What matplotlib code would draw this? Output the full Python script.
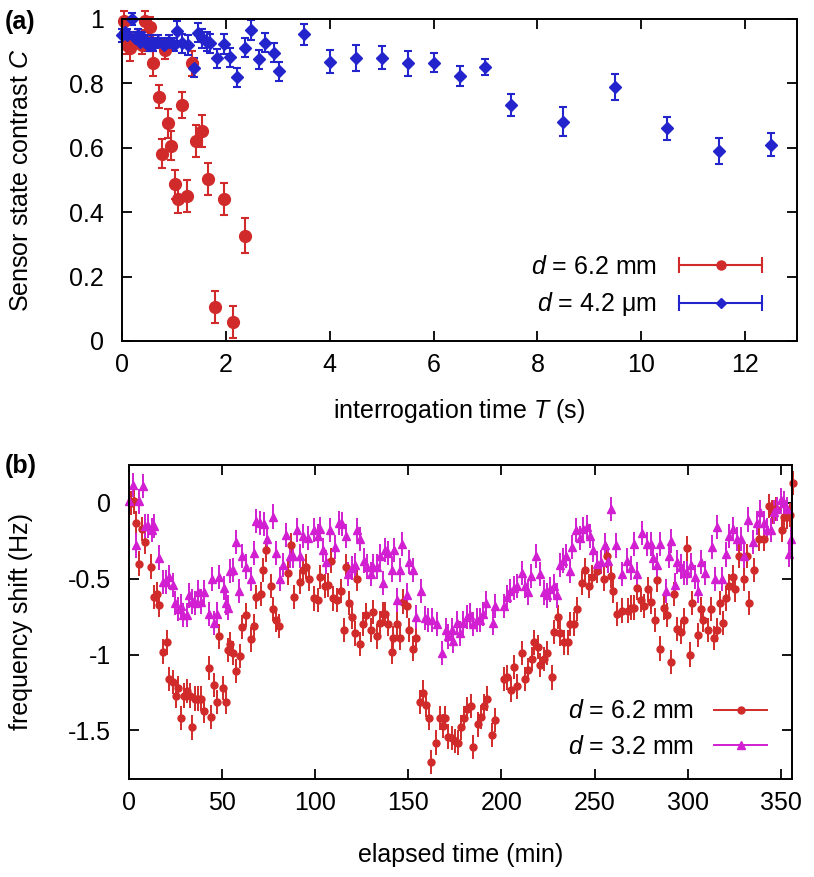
import matplotlib
matplotlib.use('Agg')
import matplotlib.pyplot as plt
from matplotlib.lines import Line2D
from matplotlib.legend_handler import HandlerLine2D, HandlerTuple
from matplotlib.ticker import FormatStrFormatter

plt.rcParams['font.family'] = ['Liberation Sans', 'DejaVu Sans']
plt.rcParams['mathtext.fontset'] = 'custom'
plt.rcParams['mathtext.it'] = 'Liberation Sans:italic'
plt.rcParams['mathtext.rm'] = 'Liberation Sans'
plt.rcParams['axes.unicode_minus'] = False
plt.rcParams['font.size'] = 18

RED = '#d12a2a'
BLUE = '#2424cc'
MAGENTA = '#d11fd1'

# ---- panel (a): contrast vs interrogation time ----
t_red = [0.03, 0.1, 0.15, 0.2, 0.3, 0.38, 0.44, 0.5, 0.53, 0.6, 0.72, 0.77, 0.83, 0.89,
         0.95, 1.02, 1.08, 1.16, 1.25, 1.35, 1.43, 1.54, 1.65, 1.8, 1.96, 2.14, 2.36]
c_red = [0.995, 0.92, 0.91, 0.93, 0.94, 0.92, 0.995, 0.93, 0.975, 0.862, 0.759, 0.582, 0.905, 0.676,
         0.606, 0.487, 0.441, 0.732, 0.45, 0.862, 0.622, 0.653, 0.503, 0.106, 0.442, 0.058, 0.327]
c_red_err = [0.03, 0.03, 0.04, 0.03, 0.03, 0.03, 0.03, 0.03, 0.03, 0.04, 0.035, 0.045, 0.03, 0.045,
             0.045, 0.045, 0.045, 0.04, 0.05, 0.04, 0.05, 0.05, 0.05, 0.05, 0.05, 0.05, 0.055]

t_blue = [0.0, 0.05, 0.1, 0.19, 0.25, 0.3, 0.35, 0.4, 0.45, 0.5, 0.55, 0.6, 0.7, 0.8, 0.9, 1.0,
          1.06, 1.15, 1.28, 1.38, 1.47, 1.55, 1.63, 1.7, 1.83, 1.96, 2.08, 2.21, 2.36, 2.49,
          2.63, 2.76, 2.92, 3.02, 3.5, 4.0, 4.5, 5.0, 5.5, 6.0, 6.5, 7.0, 7.5, 8.5, 9.5,
          10.5, 11.5, 12.5]
c_blue = [0.95, 0.96, 0.95, 1.0, 0.94, 0.95, 0.93, 0.94, 0.93, 0.92, 0.93, 0.92, 0.93, 0.92, 0.93, 0.92,
          0.963, 0.924, 0.919, 0.849, 0.958, 0.94, 0.93, 0.924, 0.878, 0.922, 0.881, 0.819, 0.911, 0.966,
          0.875, 0.927, 0.895, 0.838, 0.953, 0.868, 0.878, 0.88, 0.862, 0.864, 0.823, 0.852, 0.733, 0.681, 0.79,
          0.66, 0.59, 0.61]
c_blue_err = [0.02, 0.02, 0.02, 0.02, 0.02, 0.02, 0.02, 0.02, 0.02, 0.02, 0.02, 0.02, 0.02, 0.02, 0.02, 0.02,
              0.03, 0.03, 0.03, 0.03, 0.03, 0.03, 0.03, 0.03, 0.03, 0.03, 0.03, 0.03, 0.03, 0.03,
              0.03, 0.03, 0.03, 0.03, 0.033, 0.035, 0.04, 0.035, 0.04, 0.03, 0.03, 0.025, 0.035, 0.045, 0.04,
              0.035, 0.04, 0.035]

# ---- panel (b): frequency shift vs elapsed time ----
m_red = [1.0, 2.5, 3.8, 5.5, 7.1, 8.6, 12.0, 13.6, 14.8, 16.3, 18.4, 20.2, 21.6, 23.4, 25.0, 26.4,
         28.0, 29.5, 31.3, 32.7, 33.8, 35.5, 37.3, 38.9, 40.4, 42.7, 44.1, 45.5, 47.0, 48.4, 50.5,
         52.0, 52.9, 54.5, 55.9, 57.3, 59.5, 60.5, 62.7, 65.5, 67.0, 68.4, 70.7, 72.0, 73.8, 76.3,
         77.3, 78.8, 80.5, 85.2, 87.1, 88.6, 91.6, 93.4, 94.8, 96.6, 99.6, 101.4, 102.7, 105.5,
         107.0, 108.2, 109.8, 111.6, 113.8, 115.4, 116.5, 118.3, 119.5, 121.1, 122.6, 124.0, 125.8,
         127.2, 129.7, 131.2, 133.3, 134.8, 136.2, 137.5, 139.2, 141.0, 141.9, 144.1, 145.5, 147.0,
         149.1, 150.5, 152.3, 154.1, 156.3, 158.1, 159.5, 160.9, 162.2, 164.9, 167.0, 168.8, 169.7,
         171.5, 173.3, 175.1, 176.9, 178.1, 179.9, 181.4, 183.5, 184.9, 187.6, 189.2, 190.6, 192.1,
         194.8, 196.5, 201.4, 202.9, 205.0, 206.5, 208.6, 210.9, 212.4, 214.0, 216.2, 217.6, 219.4,
         220.8, 222.6, 224.4, 227.1, 228.3, 230.1, 231.6, 233.7, 235.5, 236.9, 238.7, 240.5, 243.0,
         245.1, 247.0, 248.7, 251.1, 255.0, 256.8, 259.0, 260.0, 261.8, 264.9, 267.9, 269.4, 271.1,
         272.6, 274.7, 276.5, 278.7, 280.5, 282.3, 283.3, 285.1, 287.3, 289.1, 291.2, 292.7, 294.4,
         296.2, 298.0, 299.5, 301.3, 302.5, 305.6, 307.0, 308.4, 310.9, 312.7, 314.2, 315.6, 317.4,
         319.2, 320.6, 322.4, 324.2, 325.3, 327.6, 330.0, 331.7, 333.0, 335.7, 338.4, 341.0, 343.7,
         345.5, 347.3, 350.4, 351.8, 353.2, 355.0, 356.3]
f_red = [0.0, 0.01, -0.13, -0.4, -0.17, -0.26, -0.42, -0.62, -0.6, -0.67, -0.98, -0.92, -1.16, -1.18,
         -1.27, -1.22, -1.42, -1.27, -1.24, -1.27, -1.48, -1.29, -1.29, -1.29, -1.37, -1.09, -1.41,
         -1.2, -1.31, -0.88, -1.22, -1.31, -0.97, -0.93, -0.99, -1.11, -1.01, -0.82, -0.74, -0.9,
         -0.81, -0.62, -0.6, -0.44, -0.31, -0.55, -0.7, -0.77, -0.81, -0.46, -0.28, -0.62, -0.52,
         -0.44, -0.42, -0.5, -0.63, -0.64, -0.49, -0.55, -0.54, -0.38, -0.63, -0.64, -0.58, -0.84,
         -0.42, -0.66, -0.75, -0.86, -0.5, -0.93, -0.8, -0.74, -0.84, -0.72, -0.88, -0.79, -0.73,
         -0.73, -0.8, -0.98, -0.89, -0.8, -0.89, -0.65, -0.68, -0.84, -0.96, -0.89, -1.31, -1.25,
         -1.33, -1.42, -1.71, -1.58, -1.42, -1.47, -1.42, -1.54, -1.55, -1.57, -1.58, -1.48, -1.42,
         -1.36, -1.34, -1.61, -1.46, -1.41, -1.34, -1.29, -1.53, -1.43, -1.16, -1.15, -1.23, -1.08,
         -1.21, -0.99, -1.16, -1.1, -1.03, -0.92, -0.95, -1.07, -1.03, -0.99, -1.15, -0.85, -0.75,
         -0.86, -0.92, -0.92, -0.8, -0.8, -0.7, -0.53, -0.44, -0.55, -0.49, -0.45, -0.5, -0.35,
         -0.48, -0.58, -0.73, -0.71, -0.71, -0.69, -0.69, -0.56, -0.64, -0.68, -0.57, -0.65, -0.77,
         -0.51, -0.96, -0.69, -0.74, -1.05, -0.6, -0.83, -0.85, -0.77, -0.3, -1.0, -0.66, -0.87,
         -0.7, -0.77, -0.84, -0.7, -0.89, -0.84, -0.66, -0.79, -0.63, -0.55, -0.49, -0.57, -0.35,
         -0.5, -0.35, -0.66, -0.44, -0.24, -0.24, -0.02, -0.06, -0.04, -0.18, -0.09, -0.09, -0.08,
         0.13]

m_mag = [0.0, 2.3, 3.8, 5.5, 7.3, 8.6, 10.4, 12.1, 13.6, 15.9, 18.0, 19.6, 21.6, 23.4, 24.6, 26.4,
         27.9, 29.1, 31.3, 32.3, 33.8, 35.4, 37.1, 38.9, 40.4, 42.7, 44.3, 45.5, 47.0, 48.4, 50.9,
         52.0, 53.2, 54.5, 55.9, 57.3, 59.1, 60.5, 62.7, 65.5, 67.0, 68.4, 70.5, 72.3, 74.1, 77.3,
         78.8, 81.3, 82.7, 84.5, 86.3, 88.0, 90.2, 92.0, 93.4, 96.3, 99.6, 101.4, 102.7, 104.1,
         105.9, 107.7, 110.4, 113.0, 114.5, 116.5, 117.7, 119.5, 121.3, 122.6, 124.0, 126.2, 127.9,
         129.7, 131.2, 132.9, 134.8, 136.2, 137.5, 139.2, 141.0, 142.3, 144.1, 145.5, 146.6, 149.1,
         150.5, 152.3, 154.1, 156.6, 159.0, 160.8, 162.5, 165.2, 167.9, 170.3, 171.5, 173.3, 174.2,
         176.0, 177.8, 179.6, 181.4, 183.2, 184.9, 186.7, 188.5, 189.9, 191.8, 195.3, 196.6, 201.4,
         202.9, 204.7, 206.5, 208.2, 210.9, 212.7, 214.0, 215.8, 218.6, 220.8, 222.9, 224.7, 226.2,
         228.0, 229.7, 231.6, 233.0, 234.8, 236.6, 238.0, 239.8, 242.1, 243.9, 245.7, 247.5, 249.3,
         251.4, 253.6, 255.4, 257.2, 258.6, 261.6, 264.9, 267.6, 269.4, 271.1, 272.9, 275.2, 277.9,
         280.1, 281.5, 283.3, 285.1, 288.1, 289.9, 291.2, 293.0, 294.4, 296.2, 298.0, 299.8, 301.6,
         303.8, 305.6, 307.3, 309.1, 313.3, 314.5, 315.9, 318.6, 320.4, 322.2, 324.5, 326.7, 328.5,
         330.3, 332.6, 335.3, 337.1, 338.9, 341.0, 342.8, 344.6, 346.1, 347.8, 350.0, 351.8, 353.2,
         354.5, 355.7]
f_mag = [0.01, 0.12, -0.28, 0.01, 0.11, -0.15, -0.15, -0.18, -0.15, -0.36, -0.52, -0.52, -0.49,
         -0.54, -0.66, -0.7, -0.68, -0.74, -0.74, -0.61, -0.65, -0.66, -0.59, -0.65, -0.59, -0.73,
         -0.5, -0.79, -0.73, -0.49, -0.56, -0.66, -0.69, -0.45, -0.44, -0.26, -0.58, -0.35, -0.42,
         -0.5, -0.33, -0.12, -0.13, -0.14, -0.24, -0.09, -0.33, -0.5, -0.41, -0.21, -0.35, -0.35,
         -0.18, -0.35, -0.22, -0.23, -0.18, -0.22, -0.17, -0.31, -0.39, -0.18, -0.29, -0.13, -0.14,
         -0.22, -0.47, -0.43, -0.41, -0.18, -0.24, -0.38, -0.42, -0.47, -0.42, -0.42, -0.35, -0.53,
         -0.31, -0.33, -0.44, -0.31, -0.64, -0.44, -0.27, -0.61, -0.39, -0.44, -0.75, -0.58, -0.76,
         -0.77, -0.77, -0.8, -0.99, -0.84, -0.88, -0.84, -0.91, -0.79, -0.86, -0.79, -0.75, -0.74,
         -0.8, -0.77, -0.77, -0.73, -0.66, -0.79, -0.68, -0.68, -0.62, -0.58, -0.56, -0.55, -0.46,
         -0.55, -0.59, -0.48, -0.35, -0.47, -0.59, -0.61, -0.57, -0.55, -0.61, -0.41, -0.38, -0.35,
         -0.45, -0.29, -0.18, -0.23, -0.17, -0.16, -0.22, -0.31, -0.4, -0.39, -0.28, -0.38, -0.04,
         -0.28, -0.47, -0.38, -0.43, -0.27, -0.47, -0.2, -0.27, -0.27, -0.36, -0.41, -0.27, -0.58,
         -0.35, -0.25, -0.54, -0.39, -0.42, -0.46, -0.46, -0.41, -0.49, -0.58, -0.39, -0.46, -0.29,
         -0.5, -0.16, -0.5, -0.34, -0.22, -0.17, -0.24, -0.24, -0.35, -0.11, -0.26, -0.13, -0.06,
         -0.13, -0.18, -0.18, -0.06, -0.04, 0.02, 0.0, -0.04, -0.34, -0.24]
f_err = 0.08


def unclip(container):
    for art in container.get_children():
        art.set_clip_on(False)


def style_axes(ax):
    for sp in ax.spines.values():
        sp.set_linewidth(1.4)
    ax.tick_params(direction='in', top=True, right=True, length=7, width=1.3)
    ax.tick_params(axis='x', pad=9)
    ax.tick_params(axis='y', pad=13)


fig = plt.figure(figsize=(8.14, 8.77), dpi=100)

# panel (a)
ax1 = fig.add_axes([122 / 814, 1 - 341 / 877, 675 / 814, 322 / 877])
e1 = ax1.errorbar(t_red, c_red, yerr=c_red_err, fmt='o', color=RED, ms=8.5,
                  elinewidth=1.5, capsize=3, capthick=1.5)
e2 = ax1.errorbar(t_blue, c_blue, yerr=c_blue_err, fmt='D', color=BLUE, ms=6.6,
                  elinewidth=1.5, capsize=3, capthick=1.5)
unclip(e1)
unclip(e2)
ax1.set_xlim(0, 13)
ax1.set_ylim(0, 1)
ax1.set_xticks(range(0, 13, 2))
ax1.set_yticks([0, 0.2, 0.4, 0.6, 0.8, 1])
ax1.yaxis.set_major_formatter(FormatStrFormatter('%g'))
style_axes(ax1)
ax1.set_xlabel('interrogation time $T$ (s)')
ax1.set_ylabel('Sensor state contrast $C$')
ax1.xaxis.set_label_coords(0.5, -0.175)
ax1.yaxis.set_label_coords(-0.132, 0.5)

handles = []
hmap = {}
for col, mk, ms in [(RED, 'o', 6.5), (BLUE, 'D', 5.5)]:
    caps = Line2D([], [], color=col, lw=1.5, marker='|', ms=12, mew=1.5)
    dot = Line2D([], [], color=col, lw=0, marker=mk, ms=ms)
    hmap[caps] = HandlerLine2D(numpoints=2, marker_pad=0)
    hmap[dot] = HandlerLine2D(numpoints=1)
    handles.append((caps, dot))
hmap[tuple] = HandlerTuple(ndivide=1, pad=0)
ax1.legend(handles, ['$d$ = 6.2 mm', '$d$ = 4.2 μm'], handler_map=hmap,
           loc='lower right', bbox_to_anchor=(0.948, 0.07), frameon=False,
           markerfirst=False, handlelength=3.3, handletextpad=0.9,
           borderpad=0, borderaxespad=0, labelspacing=0.45)

# panel (b)
ax2 = fig.add_axes([129 / 814, 1 - 779 / 877, 663 / 814, 314 / 877])
e3 = ax2.errorbar(m_red, f_red, yerr=f_err, fmt='o', color=RED, ms=5,
                  elinewidth=1.4, capsize=0, label='$d$ = 6.2 mm')
e4 = ax2.errorbar(m_mag, f_mag, yerr=f_err, fmt='^', color=MAGENTA, ms=6,
                  elinewidth=1.4, capsize=0, label='$d$ = 3.2 mm')
unclip(e3)
unclip(e4)
ax2.set_xlim(0, 356)
ax2.set_ylim(-1.82, 0.25)
ax2.set_xticks(range(0, 351, 50))
ax2.set_yticks([0, -0.5, -1, -1.5])
ax2.yaxis.set_major_formatter(FormatStrFormatter('%g'))
style_axes(ax2)
ax2.set_xlabel('elapsed time (min)')
ax2.set_ylabel('frequency shift (Hz)')
ax2.xaxis.set_label_coords(0.5, -0.205)
ax2.yaxis.set_label_coords(-0.145, 0.5)
lh = [Line2D([], [], color=RED, lw=1.4, marker='o', ms=5),
      Line2D([], [], color=MAGENTA, lw=1.4, marker='^', ms=6)]
ax2.legend(lh, ['$d$ = 6.2 mm', '$d$ = 3.2 mm'], loc='lower right',
           bbox_to_anchor=(0.962, 0.065), frameon=False, markerfirst=False,
           numpoints=1, handlelength=2.1, handletextpad=0.8,
           borderpad=0, borderaxespad=0, labelspacing=0.45)

fig.text(5 / 814, 1 - 22 / 877, '(a)', fontweight='bold', va='center', ha='left')
fig.text(5 / 814, 1 - 466 / 877, '(b)', fontweight='bold', va='center', ha='left')

fig.savefig('out.png', dpi=100)
